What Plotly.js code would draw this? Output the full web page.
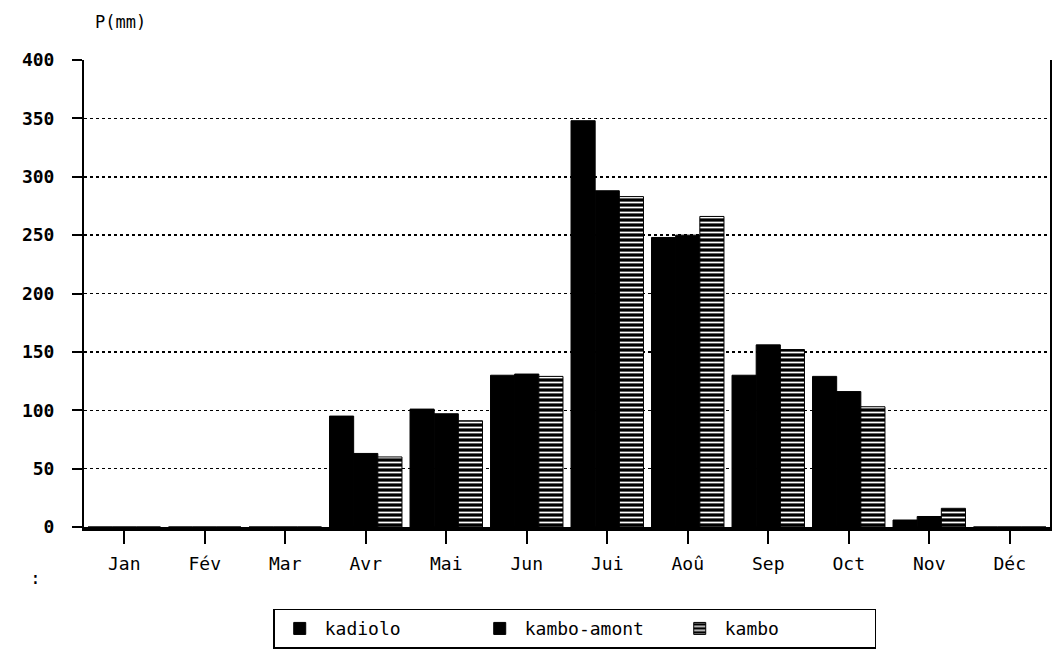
<!DOCTYPE html>
<html>
<head>
<meta charset="utf-8">
<script src="https://cdn.plot.ly/plotly-3.0.1.min.js"></script>
<style>
html, body { margin: 0; padding: 0; background: #fff; }
#chart { width: 1055px; height: 668px; }
</style>
</head>
<body>
<div id="chart"></div>
<script>
const months = ["Jan", "Fév", "Mar", "Avr", "Mai", "Jun", "Jui", "Aoû", "Sep", "Oct", "Nov", "Déc"];
const kadiolo = [0, 0, 0, 95, 101, 130, 348, 248, 130, 129, 6, 0];
const kamboAmont = [0, 0, 0, 63, 97, 131, 288, 250, 156, 116, 9, 0];
const kambo = [0, 0, 0, 60, 91, 129, 283, 266, 152, 103, 16, 0];
const yTicks = [0, 50, 100, 150, 200, 250, 300, 350, 400];

const mono = "DejaVu Sans Mono, monospace";

// Define Data
const data = [{
x: months,
y: kadiolo,
name: "kadiolo",
type: "bar",
marker: {color: "#000", line: {color: "#000", width: 1}}
}, {
x: months,
y: kamboAmont,
name: "kambo-amont",
type: "bar",
marker: {color: "#000", line: {color: "#000", width: 1}}
}, {
x: months,
y: kambo,
name: "kambo",
type: "bar",
marker: {
color: "#000",
line: {color: "#000", width: 1},
pattern: {shape: "-", fgcolor: "#fff", bgcolor: "#000", size: 5, solidity: 0.35}
}
}];

// Define Layout
const layout = {
width: 1055,
height: 668,
margin: {t: 60, l: 84, b: 141, r: 5},
paper_bgcolor: "#fff",
plot_bgcolor: "#fff",
font: {family: mono, size: 17, color: "#000"},
barmode: "group",
bargap: 0.1,
bargroupgap: 0,
showlegend: true,
title: {
text: "P(mm)",
font: {family: mono, size: 17, color: "#000"},
x: 95 / 1055, xref: "container", xanchor: "left",
y: 1 - 22 / 668, yref: "container", yanchor: "middle"
},
xaxis: {
type: "category",
range: [-0.5, 11.5],
showline: true, linecolor: "#000", linewidth: 4,
ticks: "outside", ticklen: 13, tickcolor: "#000", tickwidth: 2,
ticklabelstandoff: 4,
tickfont: {family: mono, size: 18, color: "#000"},
showgrid: false,
fixedrange: true
},
yaxis: {
range: [0, 400],
tickvals: yTicks,
showline: true, mirror: true, linecolor: "#000", linewidth: 2,
ticks: "outside", ticklen: 10, tickcolor: "#000", tickwidth: 2,
ticklabelstandoff: 14,
tickfont: {family: mono, size: 18, color: "#000", weight: "bold"},
showgrid: true, gridcolor: "#000", gridwidth: 1.5, griddash: "dot",
zeroline: false,
fixedrange: true
},
legend: {
orientation: "h",
x: 0.508, xanchor: "center",
y: -0.175, yanchor: "top",
bordercolor: "#000", borderwidth: 1.5,
bgcolor: "#fff",
font: {family: mono, size: 18, color: "#000"},
itemwidth: 40,
entrywidth: 145,
entrywidthmode: "pixels",
traceorder: "normal"
},
annotations: [{
text: ":", xref: "paper", yref: "paper",
x: -0.058, y: -0.135, showarrow: false,
font: {family: mono, size: 18, color: "#000"}
}]
};

var config = {responsive: false, displayModeBar: false, staticPlot: true};

Plotly.newPlot("chart", data, layout, config);
</script>
</body>
</html>
